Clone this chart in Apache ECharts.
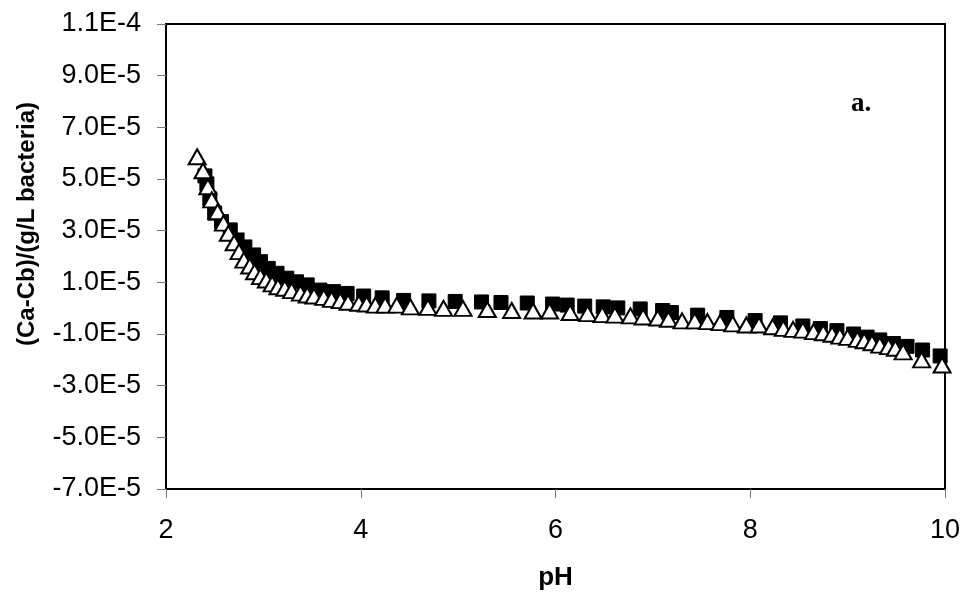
<!DOCTYPE html>
<html>
<head>
<meta charset="utf-8">
<script src="https://cdn.jsdelivr.net/npm/echarts@6/dist/echarts.min.js"></script>
<style>
html,body{margin:0;padding:0;background:#fff;}
#chart{width:967px;height:605px;}
</style>
</head>
<body>
<div id="chart"></div>
<script>
// Open triangles series: pH and (Ca-Cb)/(g/L bacteria) in units of 1E-5
const triPH = [2.32,2.38,2.43,2.47,2.53,2.59,2.64,2.70,2.75,2.80,2.86,2.91,2.97,3.03,3.09,3.15,3.22,3.29,3.38,3.45,3.52,3.62,3.70,3.79,3.87,3.98,4.06,4.15,4.25,4.37,4.51,4.69,4.85,5.05,5.30,5.55,5.77,5.94,6.15,6.33,6.48,6.61,6.77,6.90,7.05,7.16,7.30,7.43,7.56,7.69,7.82,7.96,8.09,8.23,8.34,8.44,8.54,8.65,8.75,8.84,8.92,9.00,9.10,9.17,9.25,9.33,9.42,9.49,9.57,9.76,9.97];
const triVal = [5.86,5.32,4.70,4.19,3.73,3.29,2.90,2.53,2.19,1.86,1.63,1.41,1.22,1.09,0.94,0.83,0.77,0.68,0.58,0.51,0.47,0.42,0.34,0.29,0.23,0.19,0.16,0.12,0.12,0.12,0.05,0.03,-0.01,-0.01,-0.05,-0.09,-0.11,-0.11,-0.17,-0.21,-0.25,-0.27,-0.30,-0.34,-0.38,-0.43,-0.49,-0.49,-0.52,-0.56,-0.61,-0.65,-0.65,-0.72,-0.78,-0.82,-0.85,-0.91,-0.95,-1.01,-1.08,-1.13,-1.21,-1.26,-1.34,-1.43,-1.49,-1.55,-1.69,-2.00,-2.20];
// Filled squares series
const sqPH = [2.40,2.42,2.45,2.50,2.57,2.66,2.73,2.81,2.90,2.97,3.05,3.14,3.24,3.34,3.45,3.58,3.72,3.86,4.03,4.22,4.44,4.70,4.97,5.24,5.44,5.71,5.97,6.12,6.30,6.49,6.64,6.87,7.10,7.19,7.46,7.76,8.05,8.31,8.54,8.72,8.89,9.06,9.20,9.33,9.47,9.61,9.77,9.95];
const sqVal = [5.12,4.81,4.23,3.68,3.35,3.03,2.64,2.37,2.06,1.80,1.54,1.35,1.16,1.02,0.90,0.70,0.64,0.57,0.47,0.40,0.30,0.28,0.26,0.24,0.22,0.20,0.16,0.12,0.08,0.05,0.01,-0.03,-0.09,-0.17,-0.27,-0.36,-0.48,-0.57,-0.69,-0.79,-0.87,-1.00,-1.12,-1.23,-1.37,-1.48,-1.62,-1.85];
const valScale = 1e-5;
const xTicks = [2, 4, 6, 8, 10];
const yTickLabels = ['-7.0E-5','-5.0E-5','-3.0E-5','-1.0E-5','1.0E-5','3.0E-5','5.0E-5','7.0E-5','9.0E-5','1.1E-4'];
const xName = 'pH';
const yName = '(Ca-Cb)/(g/L bacteria)';
const panelLabel = 'a.';

const chart = echarts.init(document.getElementById('chart'), null, {renderer: 'canvas'});
const sqData = sqPH.map((p, i) => [p, sqVal[i] * valScale]);
const triData = triPH.map((p, i) => [p, triVal[i] * valScale]);
const yMin = -7e-5, yMax = 1.1e-4, yInt = 2e-5;

chart.setOption({
  animation: false,
  backgroundColor: '#fff',
  grid: {left: 166, right: 22, top: 24, bottom: 116, show: true, borderColor: '#000', borderWidth: 2, backgroundColor: 'transparent'},
  xAxis: {
    type: 'value', min: 2, max: 10, interval: 2,
    name: xName, nameLocation: 'middle', nameGap: 76,
    nameTextStyle: {fontFamily: 'Liberation Sans, Arial', fontWeight: 'bold', fontSize: 26, color: '#000'},
    axisLine: {show: true, onZero: false, lineStyle: {color: '#000', width: 2}},
    axisTick: {show: true, length: 9, lineStyle: {color: '#777', width: 1}},
    axisLabel: {margin: 28, fontFamily: 'Liberation Sans, Arial', fontSize: 27, color: '#000',
      formatter: v => xTicks.includes(Math.round(v)) ? String(Math.round(v)) : ''},
    splitLine: {show: false}
  },
  yAxis: {
    type: 'value', min: yMin, max: yMax, interval: yInt,
    axisLine: {show: true, onZero: false, lineStyle: {color: '#000', width: 2}},
    axisTick: {show: true, length: 9, lineStyle: {color: '#777', width: 1}},
    axisLabel: {margin: 25, fontFamily: 'Liberation Sans, Arial', fontSize: 27, color: '#000',
      formatter: v => {
        const idx = Math.round((v - yMin) / yInt);
        return yTickLabels[idx] !== undefined ? yTickLabels[idx] : '';
      }},
    splitLine: {show: false}
  },
  graphic: [
    {type: 'text', x: 27, y: 224, rotation: Math.PI / 2,
      style: {text: yName, fontFamily: 'Liberation Sans, Arial', fontWeight: 'bold', fontSize: 24, fill: '#000', textAlign: 'center', textVerticalAlign: 'middle'}},
    {type: 'text', x: 861, y: 104,
      style: {text: panelLabel, fontFamily: 'Liberation Serif, Times New Roman', fontWeight: 'bold', fontSize: 27, fill: '#000', textAlign: 'center', textVerticalAlign: 'middle'}}
  ],
  series: [
    {type: 'scatter', data: sqData, symbol: 'rect', symbolSize: 14, z: 2,
      itemStyle: {color: '#000', borderColor: '#000', borderWidth: 1, opacity: 1}},
    {type: 'scatter', data: triData, symbol: 'triangle', symbolSize: [17, 15], z: 3,
      itemStyle: {color: '#fff', borderColor: '#000', borderWidth: 2, opacity: 1}}
  ]
});
</script>
</body>
</html>
